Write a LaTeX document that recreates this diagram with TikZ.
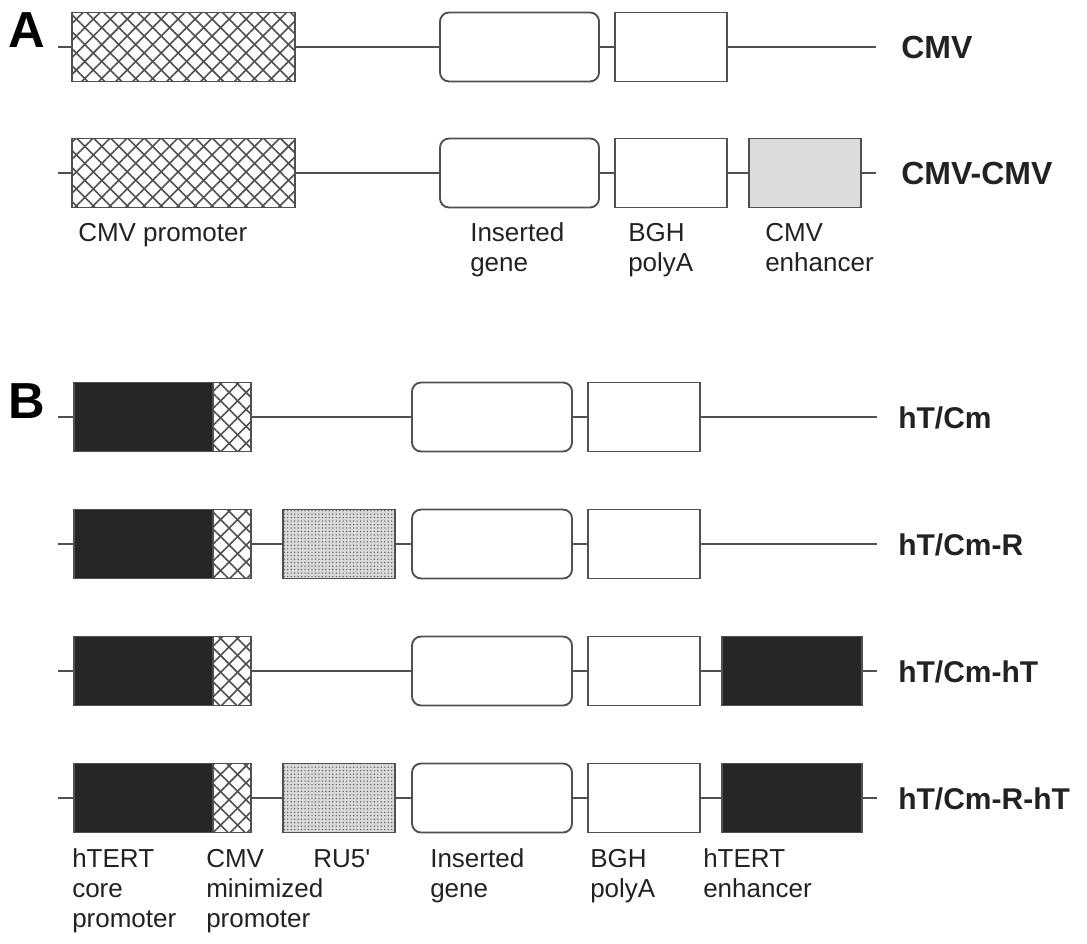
\documentclass[tikz,border=0pt]{standalone}
\usepackage{fontspec}
\setmainfont{Liberation Sans}
\usetikzlibrary{patterns.meta}
\definecolor{lc}{HTML}{505050}
\definecolor{blk}{HTML}{262626}
\definecolor{enh}{HTML}{DCDCDC}
\definecolor{hc}{HTML}{505050}
\definecolor{tc}{HTML}{222222}
\newcommand\seg[5]{\node[#1, minimum width={(#4-#3)*0.75pt}] (#2) at ({(#3+#4)/2},#5) {};}
\tikzset{
  box/.style={draw=lc, line width=1.4pt, inner sep=0pt, minimum height=69*0.75pt, fill=white},
  hatchbox/.style={draw=lc, line width=1.4pt, inner sep=0pt, minimum height=69*0.75pt,
    preaction={fill=white},
    preaction={pattern color=hc, pattern={Lines[angle=45,distance=9pt,line width=1.2pt]}},
    preaction={pattern color=hc, pattern={Lines[angle=-45,distance=9pt,line width=1.2pt]}}},
  dotbox/.style={draw=lc, line width=1.4pt, inner sep=0pt, minimum height=69*0.75pt,
    preaction={fill=black!15},
    preaction={pattern color=black!65, pattern={Dots[distance=2.6pt,radius=0.55pt]}}},
  blkbox/.style={box, fill=blk},
  enhbox/.style={box, fill=enh},
  genebox/.style={box, rounded corners=6.75pt},
  conn/.style={draw=lc, line width=1.4pt},
  lab/.style={anchor=base west, inner sep=0pt, align=left, text=tc,
    font=\fontsize{19.5}{22.5}\selectfont},
  nmA/.style={anchor=base west, inner sep=0pt, text=tc, font=\fontsize{24}{28}\selectfont\bfseries},
  nmB/.style={anchor=base west, inner sep=0pt, text=tc, font=\fontsize{22.5}{26}\selectfont\bfseries},
  panel/.style={anchor=base west, inner sep=0pt, font=\fontsize{38}{40}\selectfont\bfseries}
}
\begin{document}
\begin{tikzpicture}[x=0.75pt, y=-0.75pt]
\useasboundingbox (0,0) rectangle (1087,944);
% panel letters
\node[panel] (pA) at (8,48) {A};
\node[panel] (pB) at (8,418) {B};
% Row A1
\coordinate (a1s) at (58,47);
\seg{hatchbox}{a1p}{72}{295}{47}
\seg{genebox}{a1g}{440}{599}{47}
\seg{box}{a1b}{615}{727}{47}
\coordinate (a1e) at (876,47);
\draw[conn] (a1s) -- (a1p) (a1p) -- (a1g) (a1g) -- (a1b) (a1b) -- (a1e);
\node[nmA] (nA1) at (901,59) {CMV};
% Row A2
\coordinate (a2s) at (58,173);
\seg{hatchbox}{a2p}{72}{295}{173}
\seg{genebox}{a2g}{440}{599}{173}
\seg{box}{a2b}{615}{727}{173}
\seg{enhbox}{a2n}{749}{861}{173}
\coordinate (a2e) at (876,173);
\draw[conn] (a2s) -- (a2p) (a2p) -- (a2g) (a2g) -- (a2b) (a2b) -- (a2n) (a2n) -- (a2e);
\node[nmA] (nA2) at (901,185) {CMV-CMV};
% A labels (base = baseline of last line)
\node[lab] (lA1) at (78,242) {CMV promoter};
\node[lab] (lA2) at (470,272) {Inserted\\gene};
\node[lab] (lA3) at (628,272) {BGH\\polyA};
\node[lab] (lA4) at (765,272) {CMV\\enhancer};
% Row B1
\coordinate (b1s) at (58,417);
\seg{blkbox}{b1h}{74}{213}{417}
\seg{hatchbox}{b1c}{213}{251}{417}
\seg{genebox}{b1g}{412}{572}{417}
\seg{box}{b1b}{588}{700}{417}
\coordinate (b1e) at (877,417);
\draw[conn] (b1s) -- (b1h) (b1c) -- (b1g) (b1g) -- (b1b) (b1b) -- (b1e);
\node[nmB] (nB1) at (898,428) {hT/Cm};
% Row B2
\coordinate (b2s) at (58,544);
\seg{blkbox}{b2h}{74}{213}{544}
\seg{hatchbox}{b2c}{213}{251}{544}
\seg{dotbox}{b2r}{283}{395}{544}
\seg{genebox}{b2g}{412}{572}{544}
\seg{box}{b2b}{588}{700}{544}
\coordinate (b2e) at (877,544);
\draw[conn] (b2s) -- (b2h) (b2c) -- (b2r) (b2r) -- (b2g) (b2g) -- (b2b) (b2b) -- (b2e);
\node[nmB] (nB2) at (898,555) {hT/Cm-R};
% Row B3
\coordinate (b3s) at (58,671);
\seg{blkbox}{b3h}{74}{213}{671}
\seg{hatchbox}{b3c}{213}{251}{671}
\seg{genebox}{b3g}{412}{572}{671}
\seg{box}{b3b}{588}{700}{671}
\seg{blkbox}{b3n}{722}{862}{671}
\coordinate (b3e) at (877,671);
\draw[conn] (b3s) -- (b3h) (b3c) -- (b3g) (b3g) -- (b3b) (b3b) -- (b3n) (b3n) -- (b3e);
\node[nmB] (nB3) at (898,682) {hT/Cm-hT};
% Row B4
\coordinate (b4s) at (58,798);
\seg{blkbox}{b4h}{74}{213}{798}
\seg{hatchbox}{b4c}{213}{251}{798}
\seg{dotbox}{b4r}{283}{395}{798}
\seg{genebox}{b4g}{412}{572}{798}
\seg{box}{b4b}{588}{700}{798}
\seg{blkbox}{b4n}{722}{862}{798}
\coordinate (b4e) at (877,798);
\draw[conn] (b4s) -- (b4h) (b4c) -- (b4r) (b4r) -- (b4g) (b4g) -- (b4b) (b4b) -- (b4n) (b4n) -- (b4e);
\node[nmB] (nB4) at (898,809) {hT/Cm-R-hT};
% B labels (base = baseline of last line)
\node[lab] (lB1) at (72,927) {hTERT\\core\\promoter};
\node[lab] (lB2) at (206,927) {CMV\\minimized\\promoter};
\node[lab] (lB3) at (313,867) {RU5\textquotesingle};
\node[lab] (lB4) at (430,897) {Inserted\\gene};
\node[lab] (lB5) at (590,897) {BGH\\polyA};
\node[lab] (lB6) at (703,897) {hTERT\\enhancer};
\end{tikzpicture}
\end{document}
